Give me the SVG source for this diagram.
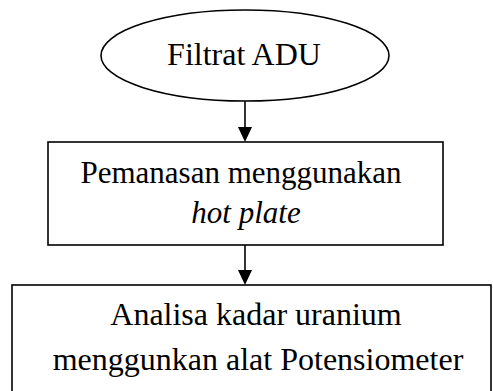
<svg xmlns="http://www.w3.org/2000/svg" width="493" height="391" viewBox="0 0 493 391">
<defs>
<style>
.shape{fill:#fff;stroke:#000;stroke-width:1.6}
.line{fill:none;stroke:#000;stroke-width:1.6}
.head{fill:#000;stroke:none}
text{font-family:"Liberation Serif","Times New Roman",serif;font-size:32px;fill:#000;text-anchor:middle}
.b1{font-size:31px}
.it{font-style:italic}
</style>
</defs>
<rect width="493" height="391" fill="#fff"/>
<g id="connectors">
<line class="line" x1="245" y1="101" x2="245" y2="128"/>
<polygon class="head" points="238,127 252,127 245,142"/>
<line class="line" x1="245" y1="245" x2="245" y2="271"/>
<polygon class="head" points="238,270 252,270 245,285"/>
</g>
<g id="node-filtrat">
<ellipse class="shape" cx="245" cy="55.5" rx="144" ry="45.5"/>
<text x="244" y="65">Filtrat ADU</text>
</g>
<g id="node-pemanasan">
<rect class="shape" x="48" y="142" width="395" height="103"/>
<text class="b1" x="241" y="183">Pemanasan menggunakan</text>
<text class="b1 it" x="246" y="222.5">hot plate</text>
</g>
<g id="node-analisa">
<rect class="shape" x="12" y="285" width="479" height="120"/>
<text x="256" y="325">Analisa kadar uranium</text>
<text x="258" y="370">menggunkan alat Potensiometer</text>
</g>
</svg>
